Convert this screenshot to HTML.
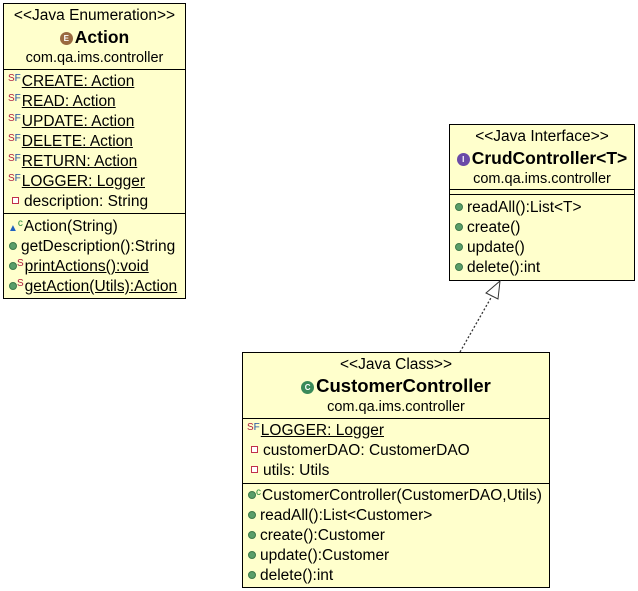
<!DOCTYPE html>
<html><head><meta charset="utf-8"><style>
body{margin:0;width:638px;height:591px;background:#fff;position:relative;font-family:"Liberation Sans",sans-serif;font-size:15.5px;color:#000;overflow:hidden}
.box{position:absolute;background:#ffffcc;border:1px solid #000;box-sizing:border-box}
.t{position:absolute;white-space:nowrap;line-height:18px}
.c{left:0;right:0;text-align:center}
.hr{position:absolute;left:0;right:0;height:0;border-top:1px solid #000}
.u{text-decoration:underline}
.pub{display:inline-block;width:8px;height:8px;border-radius:50%;background:#5a9e6a;border:1px solid #3d7a4a;box-sizing:border-box;margin-right:4px;vertical-align:1px}
.pri{display:inline-block;width:7px;height:7px;background:#fff;border:1.5px solid #c0304a;box-sizing:border-box;margin-right:5px;vertical-align:2px}
.sf{font-size:10px;color:#b02040;position:relative;top:-5px;letter-spacing:0;margin-right:1px}
.sf b{font-weight:normal;color:#2050a0}
.b{font-weight:bold;font-size:17.5px}
.p{font-size:14.5px}
.ic{display:inline-block;width:13px;height:13px;border-radius:50%;color:#fff;font-size:8px;line-height:13px;text-align:center;font-weight:bold;vertical-align:2px;margin-right:2px;letter-spacing:0}
</style></head><body>

<div class="box" style="left:3px;top:3px;width:183px;height:296px">
<div class="t c" style="top:3px">&lt;&lt;Java Enumeration&gt;&gt;</div>
<div class="t c b" style="top:24px"><span class="ic" style="background:#9a6a40">E</span>Action</div>
<div class="t c p" style="top:45px">com.qa.ims.controller</div>
<div class="hr" style="top:65px"></div>
<div class="t" style="left:4px;top:69px"><span class="sf">S<b>F</b></span><span class="u">CREATE: Action</span></div>
<div class="t" style="left:4px;top:89px"><span class="sf">S<b>F</b></span><span class="u">READ: Action</span></div>
<div class="t" style="left:4px;top:109px"><span class="sf">S<b>F</b></span><span class="u">UPDATE: Action</span></div>
<div class="t" style="left:4px;top:129px"><span class="sf">S<b>F</b></span><span class="u">DELETE: Action</span></div>
<div class="t" style="left:4px;top:149px"><span class="sf">S<b>F</b></span><span class="u">RETURN: Action</span></div>
<div class="t" style="left:4px;top:169px"><span class="sf">S<b>F</b></span><span class="u">LOGGER: Logger</span></div>
<div class="t" style="left:8px;top:189px"><span class="pri"></span>description: String</div>
<div class="hr" style="top:209px"></div>
<div class="t" style="left:4px;top:214px"><span style="color:#2060c0;font-size:10px">▲</span><span class="sf" style="color:#2a8a3a">c</span>Action(String)</div>
<div class="t" style="left:5px;top:234px"><span class="pub"></span>getDescription():String</div>
<div class="t" style="left:5px;top:254px"><span class="pub" style="margin-right:0"></span><span class="sf">S</span><span class="u">printActions():void</span></div>
<div class="t" style="left:5px;top:274px"><span class="pub" style="margin-right:0"></span><span class="sf">S</span><span class="u">getAction(Utils):Action</span></div>
</div>

<div class="box" style="left:449px;top:124px;width:186px;height:157px">
<div class="t c" style="top:3px">&lt;&lt;Java Interface&gt;&gt;</div>
<div class="t c b" style="top:24px"><span class="ic" style="background:#6a4aa8">I</span>CrudController&lt;T&gt;</div>
<div class="t c p" style="top:45px">com.qa.ims.controller</div>
<div class="hr" style="top:64px"></div>
<div class="hr" style="top:69px"></div>
<div class="t" style="left:5px;top:74px"><span class="pub"></span>readAll():List&lt;T&gt;</div>
<div class="t" style="left:5px;top:94px"><span class="pub"></span>create()</div>
<div class="t" style="left:5px;top:114px"><span class="pub"></span>update()</div>
<div class="t" style="left:5px;top:134px"><span class="pub"></span>delete():int</div>
</div>

<svg style="position:absolute;left:0;top:0" width="638" height="591">
<line x1="460" y1="352" x2="492" y2="296" stroke="#333" stroke-width="1.3" stroke-dasharray="2,2"/>
<polygon points="500,281 486,293 498,299" fill="#fff" stroke="#333" stroke-width="1"/>
</svg>

<div class="box" style="left:242px;top:352px;width:308px;height:236px">
<div class="t c" style="top:3px">&lt;&lt;Java Class&gt;&gt;</div>
<div class="t c b" style="top:24px;font-size:18.5px"><span class="ic" style="background:#3a8a5a">C</span>CustomerController</div>
<div class="t c p" style="top:45px">com.qa.ims.controller</div>
<div class="hr" style="top:65px"></div>
<div class="t" style="left:4px;top:69px"><span class="sf">S<b>F</b></span><span class="u">LOGGER: Logger</span></div>
<div class="t" style="left:8px;top:89px"><span class="pri"></span>customerDAO: CustomerDAO</div>
<div class="t" style="left:8px;top:109px"><span class="pri"></span>utils: Utils</div>
<div class="hr" style="top:130px"></div>
<div class="t" style="left:5px;top:134px"><span class="pub" style="margin-right:0"></span><span class="sf" style="color:#2a8a3a">c</span>CustomerController(CustomerDAO,Utils)</div>
<div class="t" style="left:5px;top:154px"><span class="pub"></span>readAll():List&lt;Customer&gt;</div>
<div class="t" style="left:5px;top:174px"><span class="pub"></span>create():Customer</div>
<div class="t" style="left:5px;top:194px"><span class="pub"></span>update():Customer</div>
<div class="t" style="left:5px;top:214px"><span class="pub"></span>delete():int</div>
</div>
</body></html>
